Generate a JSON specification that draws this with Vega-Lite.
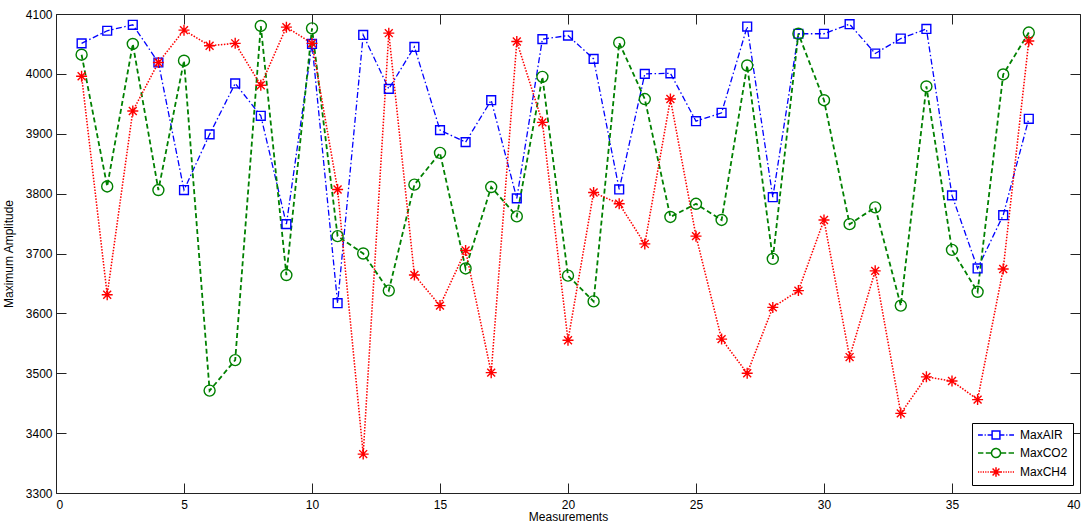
{
  "$schema": "https://vega.github.io/schema/vega-lite/v6.json",
  "autosize": "none",
  "padding": {"left": 56, "top": 14, "right": 12, "bottom": 35},
  "width": 1024,
  "height": 479,
  "background": "white",
  "config": {
    "view": {"stroke": null},
    "font": "Liberation Sans",
    "axis": {"labelFont": "Liberation Sans", "titleFont": "Liberation Sans", "labelColor": "#000", "titleColor": "#000", "domainColor": "#222", "tickColor": "#222", "grid": false, "titleFontWeight": "normal", "labelFontSize": 12, "titleFontSize": 12},
    "legend": {
      "title": null, "orient": "none", "legendX": 916, "legendY": 409,
      "strokeColor": "#000", "fillColor": "#fff", "padding": 5,
      "labelFont": "Liberation Sans", "labelFontSize": 12, "labelColor": "#000", "labelOffset": 29,
      "symbolSize": 144, "symbolStrokeWidth": 1.5, "rowPadding": 3
    }
  },
  "data": {"values": [
    {"m":1,"MaxAIR":4051,"MaxCO2":4032,"MaxCH4":3996},
    {"m":2,"MaxAIR":4072,"MaxCO2":3812,"MaxCH4":3631},
    {"m":3,"MaxAIR":4082,"MaxCO2":4050,"MaxCH4":3938},
    {"m":4,"MaxAIR":4019,"MaxCO2":3806,"MaxCH4":4019},
    {"m":5,"MaxAIR":3806,"MaxCO2":4022,"MaxCH4":4073},
    {"m":6,"MaxAIR":3899,"MaxCO2":3471,"MaxCH4":4047},
    {"m":7,"MaxAIR":3984,"MaxCO2":3522,"MaxCH4":4051},
    {"m":8,"MaxAIR":3930,"MaxCO2":4080,"MaxCH4":3981},
    {"m":9,"MaxAIR":3749,"MaxCO2":3664,"MaxCH4":4078},
    {"m":10,"MaxAIR":4050,"MaxCO2":4076,"MaxCH4":4051},
    {"m":11,"MaxAIR":3617,"MaxCO2":3729,"MaxCH4":3807},
    {"m":12,"MaxAIR":4065,"MaxCO2":3700,"MaxCH4":3365},
    {"m":13,"MaxAIR":3975,"MaxCO2":3638,"MaxCH4":4068},
    {"m":14,"MaxAIR":4045,"MaxCO2":3815,"MaxCH4":3664},
    {"m":15,"MaxAIR":3906,"MaxCO2":3868,"MaxCH4":3613},
    {"m":16,"MaxAIR":3886,"MaxCO2":3675,"MaxCH4":3705},
    {"m":17,"MaxAIR":3956,"MaxCO2":3811,"MaxCH4":3501},
    {"m":18,"MaxAIR":3792,"MaxCO2":3762,"MaxCH4":4054},
    {"m":19,"MaxAIR":4058,"MaxCO2":3995,"MaxCH4":3919},
    {"m":20,"MaxAIR":4064,"MaxCO2":3663,"MaxCH4":3555},
    {"m":21,"MaxAIR":4025,"MaxCO2":3620,"MaxCH4":3802},
    {"m":22,"MaxAIR":3807,"MaxCO2":4052,"MaxCH4":3783},
    {"m":23,"MaxAIR":4000,"MaxCO2":3958,"MaxCH4":3716},
    {"m":24,"MaxAIR":4001,"MaxCO2":3761,"MaxCH4":3958},
    {"m":25,"MaxAIR":3921,"MaxCO2":3783,"MaxCH4":3729},
    {"m":26,"MaxAIR":3935,"MaxCO2":3756,"MaxCH4":3557},
    {"m":27,"MaxAIR":4079,"MaxCO2":4014,"MaxCH4":3500},
    {"m":28,"MaxAIR":3794,"MaxCO2":3691,"MaxCH4":3610},
    {"m":29,"MaxAIR":4067,"MaxCO2":4067,"MaxCH4":3638},
    {"m":30,"MaxAIR":4067,"MaxCO2":3956,"MaxCH4":3756},
    {"m":31,"MaxAIR":4083,"MaxCO2":3749,"MaxCH4":3527},
    {"m":32,"MaxAIR":4034,"MaxCO2":3777,"MaxCH4":3671},
    {"m":33,"MaxAIR":4059,"MaxCO2":3613,"MaxCH4":3433},
    {"m":34,"MaxAIR":4075,"MaxCO2":3979,"MaxCH4":3494},
    {"m":35,"MaxAIR":3797,"MaxCO2":3706,"MaxCH4":3487},
    {"m":36,"MaxAIR":3675,"MaxCO2":3636,"MaxCH4":3456},
    {"m":37,"MaxAIR":3764,"MaxCO2":3999,"MaxCH4":3674},
    {"m":38,"MaxAIR":3925,"MaxCO2":4069,"MaxCH4":4055}
  ]},
  "transform": [{"fold": ["MaxAIR", "MaxCO2", "MaxCH4"], "as": ["series", "value"]}],
  "resolve": {"axis": {"x": "independent", "y": "independent"}},
  "layer": [
    {
      "mark": {"type": "line"},
      "encoding": {
        "x": {"field": "m", "type": "quantitative", "scale": {"domain": [0, 40], "nice": false},
              "axis": {"orient": "bottom", "values": [0,5,10,15,20,25,30,35,40], "tickSize": -10, "labelPadding": 16, "title": "Measurements", "titlePadding": 1}},
        "y": {"field": "value", "type": "quantitative", "scale": {"domain": [3300, 4100], "nice": false, "zero": false},
              "axis": {"orient": "left", "format": "d", "values": [3300,3400,3500,3600,3700,3800,3900,4000,4100], "tickSize": -10, "labelPadding": 14, "title": "Maximum Amplitude", "titlePadding": 10}},
        "color": {"field": "series", "type": "nominal",
                  "scale": {"domain": ["MaxAIR", "MaxCO2", "MaxCH4"], "range": ["#0000ff", "#008000", "#ff0000"]},
                  "legend": {
                    "encoding": {"symbols": {
                      "fill": {"value": "transparent"},
                      "size": {"value": 144},
                      "strokeDash": {"value": [1, 0]},
                      "strokeWidth": {"value": 1.5},
                      "shape": {"value": {"expr": "datum.value === 'MaxAIR' ? 'M-1,0H-0.2M0.1,0H0.3M0.6,0H1.35M2.65,0H3.4M3.7,0H3.9M4.2,0H5M1.35,-0.65H2.65V0.65H1.35Z' : (datum.value === 'MaxCO2' ? 'M-1,0H-0.1M0.3,0H1.25M2.75,0H3.7M4.1,0H5M1.25,0A0.75,0.75,0,1,0,2.75,0A0.75,0.75,0,1,0,1.25,0Z' : 'M-1,0H-0.8M-0.6,0H-0.4M-0.2,0H0M0.2,0H0.4M0.6,0H0.8M1,0H1.2M2.8,0H3M3.2,0H3.4M3.6,0H3.8M4,0H4.2M4.4,0H4.6M4.8,0H5M2,-0.8V0.8M1.2,0H2.8M1.43,-0.57L2.57,0.57M1.43,0.57L2.57,-0.57')"}}
                    }}
                  }},
        "strokeDash": {"field": "series", "type": "nominal", "scale": {"domain": ["MaxCH4", "MaxAIR", "MaxCO2"], "range": [[1.5, 1.5], [6, 2.5, 1.5, 2.5], [5, 3]]}, "legend": null},
        "strokeWidth": {"field": "series", "type": "nominal", "scale": {"domain": ["MaxCO2", "MaxCH4", "MaxAIR"], "range": [1.8, 1.3, 1.5]}, "legend": null},
        "order": {"field": "m", "type": "quantitative"}
      }
    },
    {
      "mark": {"type": "point", "filled": false, "size": 121, "strokeWidth": 1.4, "opacity": 1},
      "encoding": {
        "x": {"field": "m", "type": "quantitative", "axis": {"orient": "top", "values": [0,5,10,15,20,25,30,35,40], "tickSize": -10, "labels": false, "title": null}},
        "y": {"field": "value", "type": "quantitative", "axis": {"orient": "right", "values": [3300,3400,3500,3600,3700,3800,3900,4000,4100], "tickSize": -10, "labels": false, "title": null}},
        "color": {"field": "series", "type": "nominal",
                  "legend": {
                    "encoding": {"symbols": {
                      "fill": {"value": "transparent"},
                      "size": {"value": 144},
                      "strokeDash": {"value": [1, 0]},
                      "strokeWidth": {"value": 1.5},
                      "shape": {"value": {"expr": "datum.value === 'MaxAIR' ? 'M-1,0H-0.2M0.1,0H0.3M0.6,0H1.35M2.65,0H3.4M3.7,0H3.9M4.2,0H5M1.35,-0.65H2.65V0.65H1.35Z' : (datum.value === 'MaxCO2' ? 'M-1,0H-0.1M0.3,0H1.25M2.75,0H3.7M4.1,0H5M1.25,0A0.75,0.75,0,1,0,2.75,0A0.75,0.75,0,1,0,1.25,0Z' : 'M-1,0H-0.8M-0.6,0H-0.4M-0.2,0H0M0.2,0H0.4M0.6,0H0.8M1,0H1.2M2.8,0H3M3.2,0H3.4M3.6,0H3.8M4,0H4.2M4.4,0H4.6M4.8,0H5M2,-0.8V0.8M1.2,0H2.8M1.43,-0.57L2.57,0.57M1.43,0.57L2.57,-0.57')"}}
                    }}
                  }},
        "shape": {"field": "series", "type": "nominal",
                  "scale": {"domain": ["MaxCH4", "MaxCO2", "MaxAIR"], "range": ["M0,-1V1M-1,0H1M-0.72,-0.72L0.72,0.72M-0.72,0.72L0.72,-0.72", "circle", "M-0.8,-0.8H0.8V0.8H-0.8Z"]},
                  "legend": null}
      }
    }
  ]
}
